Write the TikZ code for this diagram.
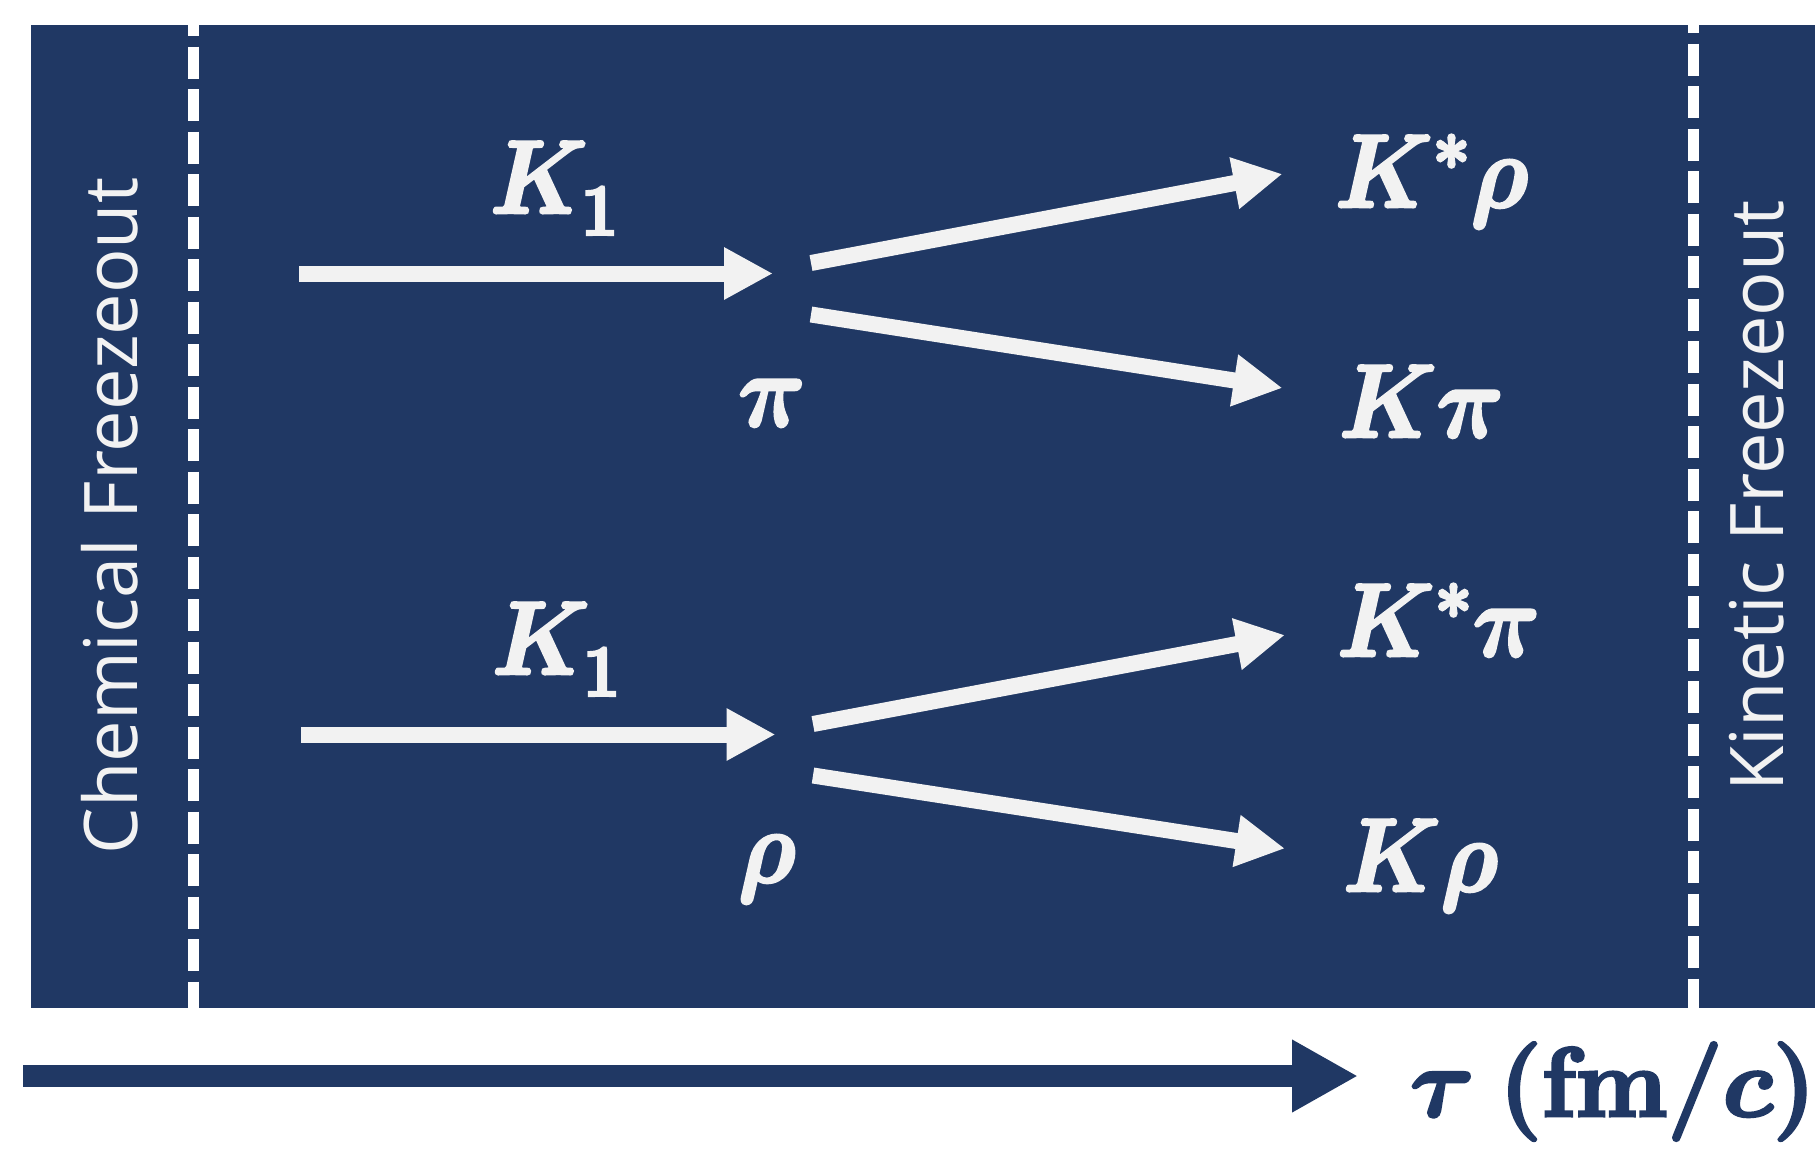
\documentclass[tikz,border=0pt]{standalone}
\usepackage{fix-cm}
\usepackage{amsmath}
\usepackage{fontspec}
\newfontfamily\labfont{Open Sans}
\usetikzlibrary{arrows.meta}
\definecolor{navy}{HTML}{203864}
\definecolor{offwhite}{HTML}{F2F2F2}
\newcommand{\heavytext}[1]{\special{pdf:literal direct 2 Tr 3 w}#1\special{pdf:literal direct 0 Tr}}
\newcommand{\narrowlab}[1]{\scalebox{0.9}[1]{\heavytext{#1}}}
\tikzset{
  flow/.style={draw=offwhite, line width=16pt, -{Triangle[length=49pt,width=49pt]}},
  timearrow/.style={draw=navy, line width=22pt, -{Triangle[length=66pt,width=68pt]}},
  freeze/.style={draw=white, line width=11pt, dash pattern=on 32pt off 10.5pt},
  sidelab/.style={text=offwhite, font=\labfont\fontsize{74}{80}\selectfont, inner sep=0pt, rotate=90, anchor=base},
  mathlab/.style={text=offwhite, font=\fontsize{104}{110}\selectfont\boldmath, inner sep=0pt, anchor=base west},
}
\begin{document}
\begin{tikzpicture}[x=1pt,y=-1pt]
\useasboundingbox (0,0) rectangle (1815,1152);
\fill[white] (0,0) rectangle (1815,1152);
\fill[navy] (31,25) rectangle (1815,1008);
% freezeout lines
\draw[freeze, dash phase=21pt] (193.5,25) -- (193.5,1008);
\draw[freeze, dash phase=24pt] (1693,25) -- (1693,1008);
% side labels
\node[sidelab] (chem) at (137,516) {Chemical Freezeout};
\node[sidelab] (kin) at (1783,496) {Kinetic Freezeout};
% coordinates of the upper group
\coordinate (a0) at (299,273.5);
\coordinate (a1) at (773,273.5);
\coordinate (au0) at (811,263);
\coordinate (au1) at (1282.5,174);
\coordinate (ad0) at (811,314.5);
\coordinate (ad1) at (1282.5,388);
% coordinates of the lower group
\coordinate (b0) at (301,734.5);
\coordinate (b1) at (775.5,734.5);
\coordinate (bu0) at (813,724);
\coordinate (bu1) at (1285,635);
\coordinate (bd0) at (813,775.5);
\coordinate (bd1) at (1285,848.5);
\draw[flow] (a0) -- (a1);
\draw[flow] (au0) -- (au1);
\draw[flow] (ad0) -- (ad1);
\draw[flow] (b0) -- (b1);
\draw[flow] (bu0) -- (bu1);
\draw[flow] (bd0) -- (bd1);
% labels
\node[mathlab] (k1a) at (490,213) {\narrowlab{$K_{\lower6pt\hbox{$\scriptstyle 1$}}$}};
\node[mathlab] (pi) at (738,426) {\narrowlab{$\pi$}};
\node[mathlab] (k1b) at (492,674) {\narrowlab{$K_{\lower6pt\hbox{$\scriptstyle 1$}}$}};
\node[mathlab] (rho) at (738,882) {\narrowlab{$\rho$}};
\node[mathlab] (ksrho) at (1335,207) {\narrowlab{$K^{*}\rho$}};
\node[mathlab] (kpi) at (1339,437) {\narrowlab{$K\pi$}};
\node[mathlab] (kspi) at (1337,656) {\narrowlab{$K^{*}\pi$}};
\node[mathlab] (krho) at (1343,891) {\narrowlab{$K\rho$}};
% time axis
\coordinate (t0) at (23,1076);
\coordinate (t1) at (1358,1076);
\draw[timearrow] (t0) -- (t1);
\node[text=navy, font=\fontsize{98}{104}\selectfont\bfseries\boldmath, inner sep=0pt, anchor=base west] (tau) at (1410,1116) {\heavytext{$\tau$\hspace{0.25em}(fm/$c$)}};
\end{tikzpicture}
\end{document}
